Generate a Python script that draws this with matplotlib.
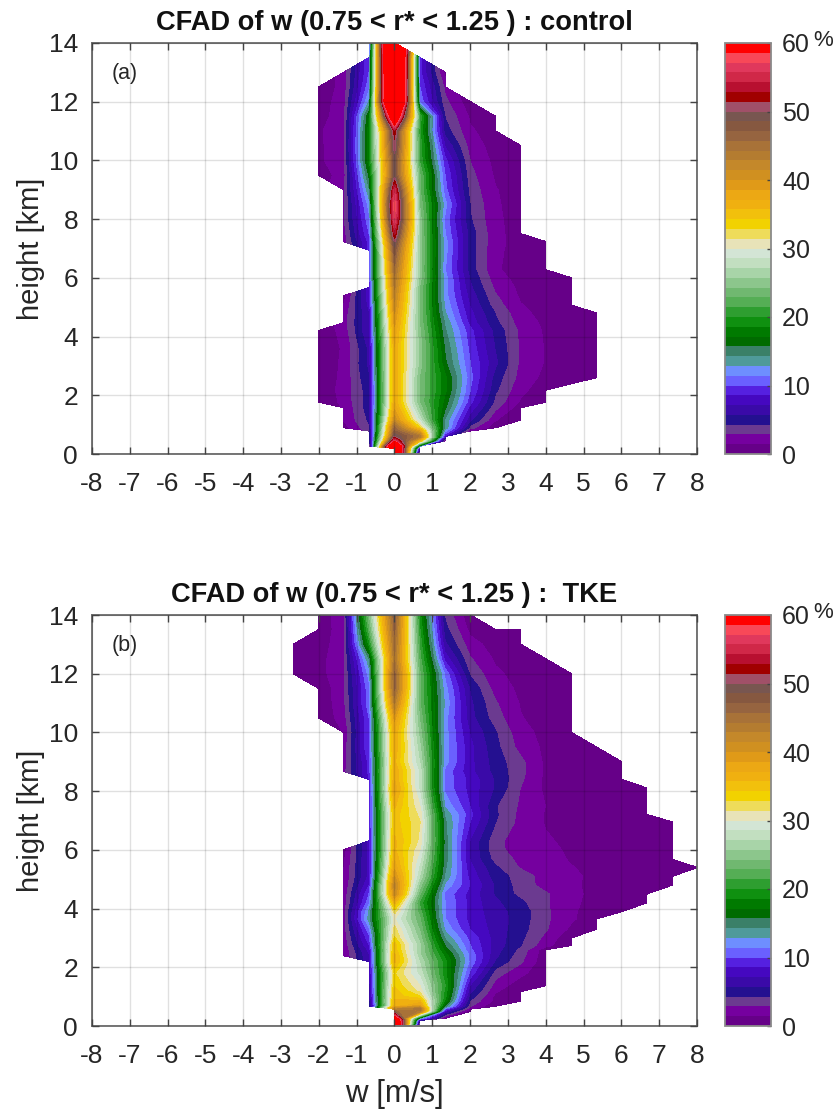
import numpy as np
import matplotlib
matplotlib.use("Agg")
import matplotlib.pyplot as plt
from matplotlib.cm import ScalarMappable
from matplotlib.colors import ListedColormap, BoundaryNorm

plt.rcParams['font.family'] = ['Liberation Sans', 'DejaVu Sans']
plt.rcParams['axes.unicode_minus'] = False

W, H = 837, 1112
w_bins = [-2.667, -2, -1.333, -0.667, 0, 0.667, 1.333, 2, 2.667, 3.333, 4, 4.667, 5.333, 6, 6.667, 7.333, 8]

heights_a = [14, 13.5, 13, 12.5, 12, 11.5, 11, 10.5, 10, 9.5, 9, 8.5, 8, 7.5, 7.23, 6.95, 6.27, 6, 5.66, 5.39, 5.07,
             4.8, 4.47, 4.2, 3.6, 3.1, 2.6, 2.4, 2.18, 1.77, 1.58, 1.16, 0.9, 0.79, 0.6, 0.45, 0.27, 0.2, 0.07]
first_a = [3, 3, 2, 1, 1, 1, 1, 1, 1, 1, 2, 2, 2, 2, 2, 3, 3, 3, 3, 2, 2,
           2, 2, 1, 1, 1, 1, 1, 1, 1, 2, 2, 2, 3, 3, 3, 3, 4, 4]
values_a = [
    [8, 96],
    [10, 92, 9],
    [2, 10, 92, 9, 1],
    [.3, 2, 11, 90, 10, 2.5],
    [.5, 2.3, 13, 90, 11, 3.2, .5],
    [.7, 2.4, 17, 68, 21, 4.2, 1.2, .3],
    [1.2, 2.5, 18, 52, 20, 5, 1.6, .8],
    [1.1, 2.6, 18, 51, 21, 7, 2.2, .8, .4],
    [1.1, 2.5, 18, 49, 21, 9, 2.8, 1, .6],
    [.5, 2.2, 16, 49, 23, 10, 3.3, 1.2, .7],
    [2.5, 14, 55, 23, 10.5, 3.7, 1.5, .8],
    [2.6, 12, 58, 24, 12, 4.2, 1.6, .8],
    [2.7, 11, 57, 25, 11, 4.4, 1.7, .8],
    [2.2, 10, 53, 25, 11.5, 5, 1.8, .8],
    [2, 9, 50, 25, 12, 5, 1.8, .9, .3],
    [9, 48, 25, 12, 5, 1.7, .9, .4],
    [9, 45, 25, 11.5, 5, 1.6, .8, .4],
    [9, 44, 25, 12, 5.5, 2, .9, .5, .2],
    [8, 43, 24, 12, 6, 2.5, 1.1, .6, .3],
    [.8, 8, 42, 24, 12, 6.5, 3, 1.2, .6, .3],
    [1.5, 7.5, 41, 24, 12.5, 7, 3.5, 1.5, .8, .3],
    [2, 7, 40, 24, 13, 7.5, 4.2, 1.8, .9, .5, .2],
    [2.2, 7, 39, 24, 14, 8, 4.6, 2.2, 1.1, .6, .3],
    [.2, 2, 7, 38, 24.5, 14.5, 9, 5.2, 2.5, 1.2, .7, .3],
    [.4, 1.6, 6, 37, 25, 15.5, 9.5, 5.6, 2.6, 1.3, .7, .3],
    [.4, 1.7, 6, 37, 25, 16, 10, 6, 2.5, 1.3, .6, .3],
    [.3, 1.8, 5.5, 37, 24, 17.5, 10.5, 5, 2.3, 1, .5, .2],
    [.3, 1.9, 5.2, 37, 24, 17.5, 10.2, 4.8, 2, .8, .3],
    [.3, 2, 5, 37, 24, 17.5, 10, 4.5, 1.8, .5],
    [.2, 1.8, 5, 37, 24, 16.5, 9, 3.8, 1.2, .2],
    [1.6, 5, 38, 25, 16, 8, 3.2, .6],
    [1.5, 4.5, 41, 28, 14, 6, 1.5, .2],
    [.8, 4, 46, 33, 14, 3.5, .4],
    [3.5, 47, 38, 12, 1.5],
    [3.5, 50, 44, 8],
    [3, 56, 35, .5],
    [.3, 75, 12],
    [78, 5],
    [80, .3],
]

heights_b = [14, 13.5, 13, 12.5, 12, 11.5, 11, 10.5, 10, 9.5, 9, 8.68, 8.4, 8.1, 7.5, 7.2, 6.95, 6.3, 6, 5.67, 5.4, 5.1,
             4.8, 4.5, 4.2, 3.9, 3.65, 3.3, 3, 2.75, 2.6, 2.4, 2.2, 1.8, 1.38, 1.18, 1, .85, .68, .58, .5, .27, .2, .07]
first_b = [1, 1, 0, 0, 0, 1, 1, 1, 2, 2, 2, 2, 3, 3, 3, 3, 3, 3, 2, 2, 2, 2,
           2, 2, 2, 2, 2, 2, 2, 2, 2, 2, 3, 3, 3, 3, 3, 3, 3, 4, 4, 4, 4, 4]
values_b = [
    [.4, 2.5, 24, 47, 19, 4, .3],
    [.3, 2.4, 22, 46, 20, 4.8, 1, .3, .1],
    [.1, .5, 2.6, 19, 45, 21, 6, 2, .8, .1],
    [.3, .8, 2.7, 14, 44, 22, 8, 3, 1.2, .5, .1],
    [.1, .8, 2.7, 12, 46, 23, 11, 4, 1.7, .9, .5, .1],
    [.2, 2.6, 11, 46, 23, 12, 5.5, 2.2, 1.1, .6, .2],
    [.2, 2.5, 11, 43, 23, 12.5, 6, 3, 1.3, .7, .3],
    [.1, 2.2, 10, 39, 24, 12, 6.2, 3.5, 1.5, .8, .4],
    [1.5, 10, 37, 25, 12, 7, 4.4, 1.9, 1, .4],
    [2, 10, 37, 26, 12, 7.5, 4.7, 2.3, 1.1, .6, .3],
    [2.2, 9, 36, 27, 12, 7.5, 5, 3.2, 1.1, .6, .4, .1],
    [2.3, 9, 37, 28, 11, 7.5, 5.2, 3.3, 1.1, .6, .4, .2],
    [8.5, 37, 28, 11, 8, 5.5, 3.1, 1.1, .6, .4, .2],
    [8, 38, 28, 11, 8, 5.5, 2.8, 1.1, .6, .4, .2, .1],
    [8, 36, 30, 12.5, 8.5, 4.4, 2.6, 1.4, .7, .4, .3, .1],
    [8, 35, 31, 14, 9, 4.5, 2.4, 1.3, .8, .5, .3, .15],
    [8, 35, 31.5, 14.5, 8.5, 4.3, 2.4, 1.3, .8, .5, .3, .2, .05],
    [7.5, 36, 31, 15, 7, 3.2, 2.2, 1.6, 1.1, .7, .4, .2, .1],
    [.8, 7.5, 36, 30, 15, 7, 3.2, 2.3, 1.8, 1.2, .8, .5, .3, .1],
    [1.2, 7.5, 37, 29, 15, 7, 3.7, 2.5, 2, 1.3, .9, .6, .4, .1],
    [1.4, 7.5, 38, 28, 14.5, 7.5, 4.5, 2.7, 2.1, 1.5, 1, .7, .5, .3, .05],
    [1.5, 7.5, 40, 27, 14, 8, 5, 3.6, 2.2, 1.7, 1.1, .7, .4, .1],
    [1.6, 8.5, 42, 25, 12.5, 8.5, 5.5, 3.6, 2.3, 1.7, 1, .6, .3, .1],
    [1.8, 10, 41, 23, 11, 8, 5.5, 3.8, 3, 1.9, .9, .5, .1],
    [2, 11, 36, 21, 11.5, 8, 6, 4.6, 3, 1.8, .8, .2, .05],
    [2.2, 13, 32, 22, 11.5, 8, 6.3, 5, 3.1, 1.7, .6, .1],
    [2.3, 13.5, 30, 23, 11.5, 8, 6.5, 5, 3.1, 1.7, .3],
    [2.2, 11, 32, 24, 12.5, 8.5, 6.5, 4.8, 3, 1.1, .1],
    [2, 9.5, 33, 25, 14, 9.5, 6.5, 4.6, 2.4, .3],
    [1.8, 8.5, 35, 26, 15.5, 10, 6.5, 4.3, 1.9, .05],
    [1.6, 7.5, 35, 26, 16.5, 10.3, 6.3, 3.8, .5],
    [1.5, 7, 36, 26, 18, 11, 6, 3.4, .4],
    [7, 36, 27, 19, 11, 5.5, 3.1, .4],
    [6.5, 33, 28, 19, 9.5, 3.5, 1.8, .3],
    [6, 34, 30, 20, 7, 2.2, .6, .05],
    [5.5, 35, 31, 19.5, 6, 1.6, .2],
    [5, 35, 33, 19, 5, 1, .05],
    [4.5, 36, 36, 18, 4, 1, .05],
    [3, 36, 39, 15, 3, .05],
    [42, 45, 10, 1.5],
    [46, 44, 7, .05],
    [62, 13, 1],
    [72, 5],
    [75, .1],
]

band_colors = [
    '#660088', '#75009f', '#6b3a90', '#241090', '#3a0aa8', '#4508c0', '#5520e0', '#6a60ff', '#6e8eff',
    '#4f9a9a', '#3a8068', '#006b00', '#007a00', '#0f9010', '#2e9e30', '#55ae55', '#70b870', '#8cc68c',
    '#a8d4a8', '#c2dfc0', '#d3e5d5', '#e8e3b8', '#eedc5a', '#f2d200', '#f2c00c', '#f0b010', '#eca814',
    '#e09a18', '#d09020', '#c4882a', '#b47c30', '#a87238', '#966440', '#865840', '#785650', '#a05068',
    '#a00000', '#b81030', '#d02848', '#e0385c', '#f84858', '#ff0000']

x_ticks = list(range(-8, 9))
y_ticks = list(range(0, 15, 2))
bar_ticks = list(range(0, 61, 10))
titles = ['CFAD of w (0.75 < r* < 1.25 ) : control', 'CFAD of w (0.75 < r* < 1.25 ) :  TKE']
tags = ['(a)', '(b)']

levels = np.linspace(0, 60, 43)
cmap = ListedColormap(band_colors)
cmap.set_over('#ff0000')
norm = BoundaryNorm(levels, cmap.N)


def grid_of(heights, first, values):
    z = np.full((len(heights), len(w_bins)), np.nan)
    for i, (s, v) in enumerate(zip(first, values)):
        z[i, s:s + len(v)] = v
    order = np.argsort(heights)
    return np.array(heights)[order], z[order]


def box(l, t, r, b):
    return [l / W, 1 - b / H, (r - l) / W, (b - t) / H]


fig = plt.figure(figsize=(W / 100, H / 100), dpi=100)
GREY = '#6a6a6a'
TXT = '#262626'
panels = [(43, 454, heights_a, first_a, values_a), (615, 1026, heights_b, first_b, values_b)]
for k, (top, bot, hs, fs, vs) in enumerate(panels):
    ax = fig.add_axes(box(92, top, 697, bot))
    y, z = grid_of(hs, fs, vs)
    cf = ax.contourf(w_bins, y, z, levels=levels, cmap=cmap, norm=norm, extend='max')
    cf.set_edgecolor('face')
    cf.set_linewidth(0.35)
    ax.set_xlim(-8, 8)
    ax.set_ylim(0, 14)
    ax.set_xticks(x_ticks)
    ax.set_yticks(y_ticks)
    ax.set_axisbelow(False)
    ax.grid(True, color='k', alpha=0.12, lw=1.0)
    ax.tick_params(direction='in', top=True, right=True, length=5, width=1, color='#444444',
                   labelsize=19, labelcolor=TXT)
    ax.tick_params(axis='x', pad=13)
    ax.tick_params(axis='y', pad=10)
    for s in ax.spines.values():
        s.set_color(GREY)
        s.set_linewidth(1.3)
    ax.set_ylabel('height [km]', fontsize=21, color=TXT, labelpad=3)
    if k == 1:
        ax.set_xlabel('w [m/s]', fontsize=22.5, color=TXT, labelpad=8)
    ax.set_title(titles[k], fontsize=19.6, fontweight='bold', color='#111111', pad=9)
    ax.text(0.032, 0.925, tags[k], transform=ax.transAxes, fontsize=15.5, color=TXT, va='center')

    cax = fig.add_axes(box(725, top, 771, bot))
    sm = ScalarMappable(norm=norm, cmap=ListedColormap(band_colors))
    cb = fig.colorbar(sm, cax=cax, ticks=bar_ticks, spacing='proportional', drawedges=False)
    cb.minorticks_off()
    cb.ax.tick_params(direction='in', length=3, width=1, color='#444444', labelsize=18, labelcolor=TXT, pad=8)
    cb.outline.set_edgecolor('#8a8a8a')
    cb.outline.set_linewidth(1.3)
    fig.text(813 / W, 1 - (top - 3) / H, '%', fontsize=16, color=TXT, ha='left', va='center')

fig.savefig('out.png', dpi=100)
